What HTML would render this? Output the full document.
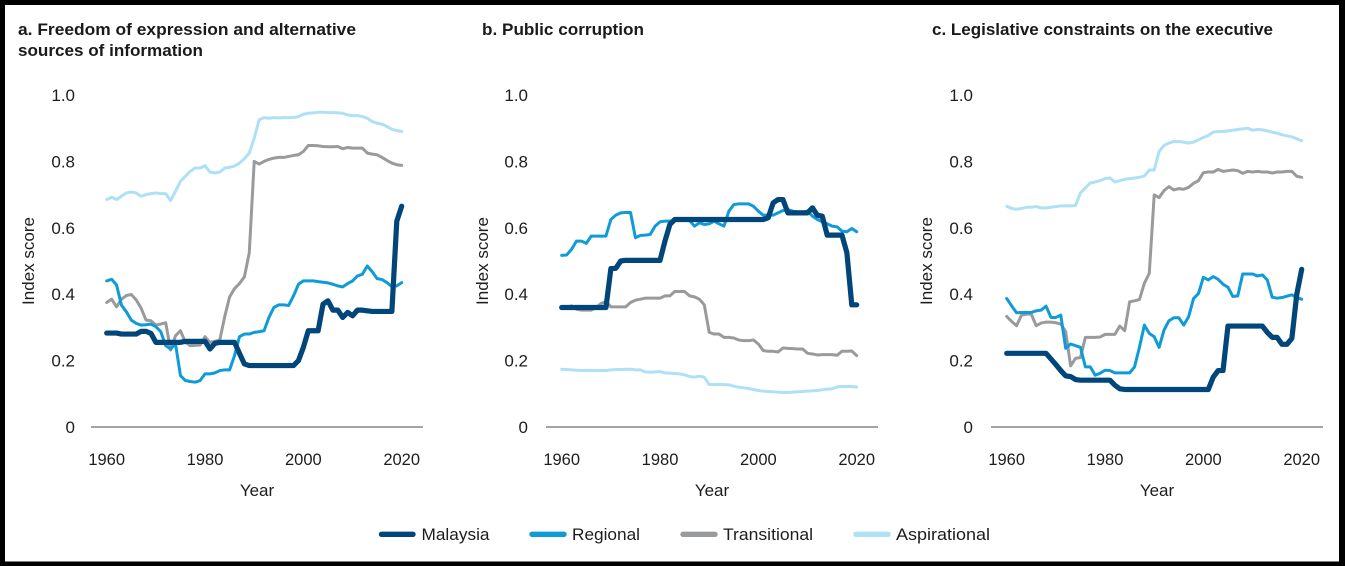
<!DOCTYPE html>
<html lang="en">
<head>
<meta charset="utf-8">
<title>Index score charts</title>
<style>
html,body{margin:0;padding:0;background:#fff}
svg{display:block;font-family:"Liberation Sans",sans-serif}
</style>
</head>
<body>
<svg id="root" width="1345" height="566" viewBox="0 0 1345 566" xmlns="http://www.w3.org/2000/svg">
<rect x="0" y="0" width="1345" height="566" fill="#000"/>
<rect x="5" y="5" width="1334" height="556.5" fill="#fff"/>
<g font-size="17" fill="#1d1d1d">
  <g><line x1="381.5" x2="413" y1="534.3" y2="534.3" stroke="#00467a" stroke-width="5.4" stroke-linecap="round"/><text x="421.5" y="540" textLength="68" lengthAdjust="spacingAndGlyphs">Malaysia</text></g>
  <g><line x1="532" x2="564" y1="534.3" y2="534.3" stroke="#0e9bd8" stroke-width="5.4" stroke-linecap="round"/><text x="572" y="540" textLength="68" lengthAdjust="spacingAndGlyphs">Regional</text></g>
  <g><line x1="683" x2="715" y1="534.3" y2="534.3" stroke="#999a9c" stroke-width="5.4" stroke-linecap="round"/><text x="723" y="540" textLength="90" lengthAdjust="spacingAndGlyphs">Transitional</text></g>
  <g><line x1="856" x2="888" y1="534.3" y2="534.3" stroke="#aee0f6" stroke-width="5.4" stroke-linecap="round"/><text x="896" y="540" textLength="94" lengthAdjust="spacingAndGlyphs">Aspirational</text></g>
</g>
</svg>
<script>
const years = [1960,1961,1962,1963,1964,1965,1966,1967,1968,1969,1970,1971,1972,1973,1974,1975,1976,1977,1978,1979,1980,1981,1982,1983,1984,1985,1986,1987,1988,1989,1990,1991,1992,1993,1994,1995,1996,1997,1998,1999,2000,2001,2002,2003,2004,2005,2006,2007,2008,2009,2010,2011,2012,2013,2014,2015,2016,2017,2018,2019,2020];
const xTickYears = [1960,1980,2000,2020];
const yTickValues = [0,0.2,0.4,0.6,0.8,1];
const yTickLabels = ["0","0.2","0.4","0.6","0.8","1.0"];
const seriesNames = ["Aspirational","Transitional","Regional","Malaysia"];

const aAspirational = [.685,.692,.685,.695,.705,.708,.705,.695,.700,.703,.705,.703,.703,.682,.710,.740,.755,.770,.780,.780,.787,.768,.765,.768,.780,.782,.786,.795,.808,.825,.870,.925,.932,.930,.932,.931,.932,.932,.932,.935,.942,.945,.946,.948,.948,.947,.947,.946,.945,.940,.938,.938,.935,.930,.920,.915,.912,.905,.897,.893,.890];
const aTransitional = [.375,.385,.362,.385,.396,.399,.383,.358,.322,.320,.307,.310,.314,.232,.275,.290,.255,.245,.246,.247,.272,.255,.258,.262,.332,.392,.417,.432,.452,.525,.800,.792,.800,.806,.810,.812,.812,.815,.818,.820,.830,.848,.848,.847,.845,.844,.844,.845,.838,.842,.840,.840,.840,.825,.822,.820,.812,.803,.795,.790,.788];
const aRegional = [.440,.445,.428,.367,.347,.322,.312,.307,.308,.310,.302,.287,.245,.235,.250,.155,.140,.137,.135,.140,.160,.160,.163,.170,.172,.172,.215,.272,.280,.280,.285,.287,.290,.330,.360,.368,.368,.366,.395,.430,.440,.440,.440,.438,.436,.434,.430,.425,.422,.432,.440,.455,.460,.485,.468,.447,.444,.435,.423,.425,.435];
const aMalaysia = [.283,.283,.283,.280,.280,.280,.280,.288,.288,.282,.255,.255,.255,.255,.255,.255,.258,.258,.258,.258,.258,.235,.252,.255,.255,.255,.255,.222,.190,.185,.185,.185,.185,.185,.185,.185,.185,.185,.185,.200,.240,.290,.290,.290,.370,.380,.352,.352,.330,.345,.335,.352,.352,.350,.348,.348,.348,.348,.348,.620,.665];

const bAspirational = [.174,.173,.172,.171,.170,.170,.170,.170,.170,.170,.172,.173,.173,.174,.174,.172,.172,.166,.165,.166,.167,.163,.162,.161,.160,.157,.152,.150,.153,.150,.128,.128,.128,.128,.127,.123,.120,.118,.116,.113,.110,.108,.107,.106,.105,.104,.104,.105,.106,.107,.108,.109,.110,.112,.114,.115,.121,.122,.122,.122,.120];
const bTransitional = [.360,.358,.365,.355,.352,.352,.352,.360,.372,.378,.362,.362,.362,.362,.375,.382,.385,.388,.388,.388,.388,.395,.395,.408,.408,.408,.395,.392,.385,.368,.285,.280,.280,.270,.270,.268,.262,.260,.260,.262,.250,.230,.228,.228,.226,.238,.237,.236,.235,.235,.222,.220,.217,.218,.218,.218,.216,.228,.228,.229,.215];
const bRegional = [.517,.518,.535,.560,.560,.553,.575,.575,.575,.575,.625,.638,.645,.646,.646,.570,.577,.578,.580,.605,.618,.620,.620,.622,.622,.622,.622,.605,.615,.610,.612,.620,.612,.605,.650,.670,.672,.672,.672,.665,.650,.638,.638,.638,.645,.652,.655,.650,.648,.648,.650,.635,.625,.618,.612,.605,.603,.590,.588,.598,.588];
const bMalaysia = [.360,.360,.360,.360,.360,.360,.360,.360,.360,.360,.477,.478,.500,.502,.502,.502,.502,.502,.502,.502,.502,.560,.610,.625,.625,.625,.625,.625,.625,.625,.625,.625,.625,.625,.625,.625,.625,.625,.625,.625,.625,.625,.630,.675,.685,.685,.645,.645,.645,.645,.645,.660,.638,.635,.578,.578,.578,.578,.525,.368,.368];

const cAspirational = [.665,.658,.656,.658,.662,.662,.664,.660,.660,.662,.664,.666,.666,.666,.667,.705,.720,.735,.738,.742,.748,.750,.738,.742,.746,.748,.750,.752,.756,.774,.774,.830,.848,.855,.860,.860,.858,.855,.858,.865,.872,.878,.888,.890,.890,.892,.894,.896,.898,.900,.894,.896,.895,.892,.888,.885,.880,.877,.874,.868,.862];
const cTransitional = [.333,.318,.305,.337,.340,.340,.305,.313,.316,.316,.314,.310,.287,.184,.207,.209,.270,.270,.270,.271,.279,.279,.279,.304,.290,.377,.380,.384,.433,.463,.699,.691,.712,.724,.714,.718,.716,.722,.734,.742,.766,.768,.768,.776,.770,.772,.774,.772,.764,.770,.768,.770,.768,.768,.765,.768,.768,.770,.770,.755,.752];
const cRegional = [.387,.365,.344,.345,.345,.345,.350,.352,.364,.330,.330,.337,.237,.250,.245,.240,.181,.181,.156,.162,.171,.170,.163,.163,.163,.163,.181,.240,.307,.282,.272,.240,.292,.320,.329,.329,.307,.332,.387,.402,.451,.443,.453,.445,.430,.421,.393,.395,.461,.461,.461,.455,.458,.443,.391,.388,.390,.394,.398,.390,.385];
const cMalaysia = [.222,.222,.222,.222,.222,.222,.222,.222,.222,.205,.188,.170,.154,.152,.143,.141,.141,.141,.141,.141,.141,.141,.126,.115,.113,.113,.113,.113,.113,.113,.113,.113,.113,.113,.113,.113,.113,.113,.113,.113,.113,.113,.150,.170,.170,.304,.304,.304,.304,.304,.304,.304,.304,.285,.270,.270,.249,.249,.267,.400,.475];

const panelA = {key:"a", title:["a. Freedom of expression and alternative","sources of information"], series:[aAspirational,aTransitional,aRegional,aMalaysia], plotLeft:106.7, titleX:18, titleLen:[338,185], axisL:91, axisR:423, tickR:75, yTitleX:34, yearX:257};
const panelB = {key:"b", title:["b. Public corruption"], series:[bAspirational,bTransitional,bRegional,bMalaysia], plotLeft:561.7, titleX:482, titleLen:[162], axisL:546, axisR:878, tickR:528, yTitleX:488, yearX:712};
const panelC = {key:"c", title:["c. Legislative constraints on the executive"], series:[cAspirational,cTransitional,cRegional,cMalaysia], plotLeft:1006.7, titleX:932, titleLen:[341], axisL:991, axisR:1323, tickR:973, yTitleX:932, yearX:1157};
const panels = [panelA,panelB,panelC];

const seriesColors = ["#aee0f6","#999a9c","#0e9bd8","#00467a"];
const seriesWidths = [3,3,3,5.2];
const NS = "http://www.w3.org/2000/svg";
const root = document.getElementById("root");

function xScale(panel, year){ return panel.plotLeft + (year-1960)*(295/60); }
function yScale(v){ return 427 - v*332; }
function mk(tag, attrs, parent){
  const e = document.createElementNS(NS, tag);
  for(const k in attrs){ e.setAttribute(k, attrs[k]); }
  parent.appendChild(e);
  return e;
}

panels.forEach(function(p){
  const g = mk("g", {}, root);
  
  

  p.title.forEach(function(line, i){
    const t = mk("text", {x:p.titleX, y:35+i*21, "font-size":16.5, "font-weight":"bold", fill:"#1a1a1a", textLength:p.titleLen[i], lengthAdjust:"spacingAndGlyphs"}, g);
    
    
    t.textContent = line;
  });

  const axis = mk("line", {x1:p.axisL, x2:p.axisR, y1:427, y2:427, stroke:"#4a4a4a", "stroke-width":1.1}, g);
  
  

  yTickValues.forEach(function(v, i){
    const t = mk("text", {x:p.tickR, y:yScale(v)+6, "font-size":17, fill:"#1d1d1d", "text-anchor":"end"}, g);
    
    
    t.textContent = yTickLabels[i];
  });

  xTickYears.forEach(function(y){
    const t = mk("text", {x:xScale(p,y), y:465, "font-size":16.5, fill:"#1d1d1d", "text-anchor":"middle"}, g);
    
    
    t.textContent = String(y);
  });

  const xt = mk("text", {x:p.yearX, y:496, "font-size":17, fill:"#1d1d1d", "text-anchor":"middle"}, g);
  
  
  xt.textContent = "Year";

  const yt = mk("text", {x:p.yTitleX, y:261, "font-size":17, fill:"#1d1d1d", "text-anchor":"middle", transform:"rotate(-90 "+p.yTitleX+" 261)"}, g);
  
  
  yt.textContent = "Index score";

  p.series.forEach(function(vals, si){
    const pts = vals.map(function(v, i){ return xScale(p, years[i]).toFixed(2)+","+yScale(v).toFixed(2); }).join(" ");
    const l = mk("polyline", {points:pts, fill:"none", stroke:seriesColors[si], "stroke-width":seriesWidths[si], "stroke-linejoin":"round", "stroke-linecap":"round"}, g);
    
    
  });
});
</script>
</body>
</html>
